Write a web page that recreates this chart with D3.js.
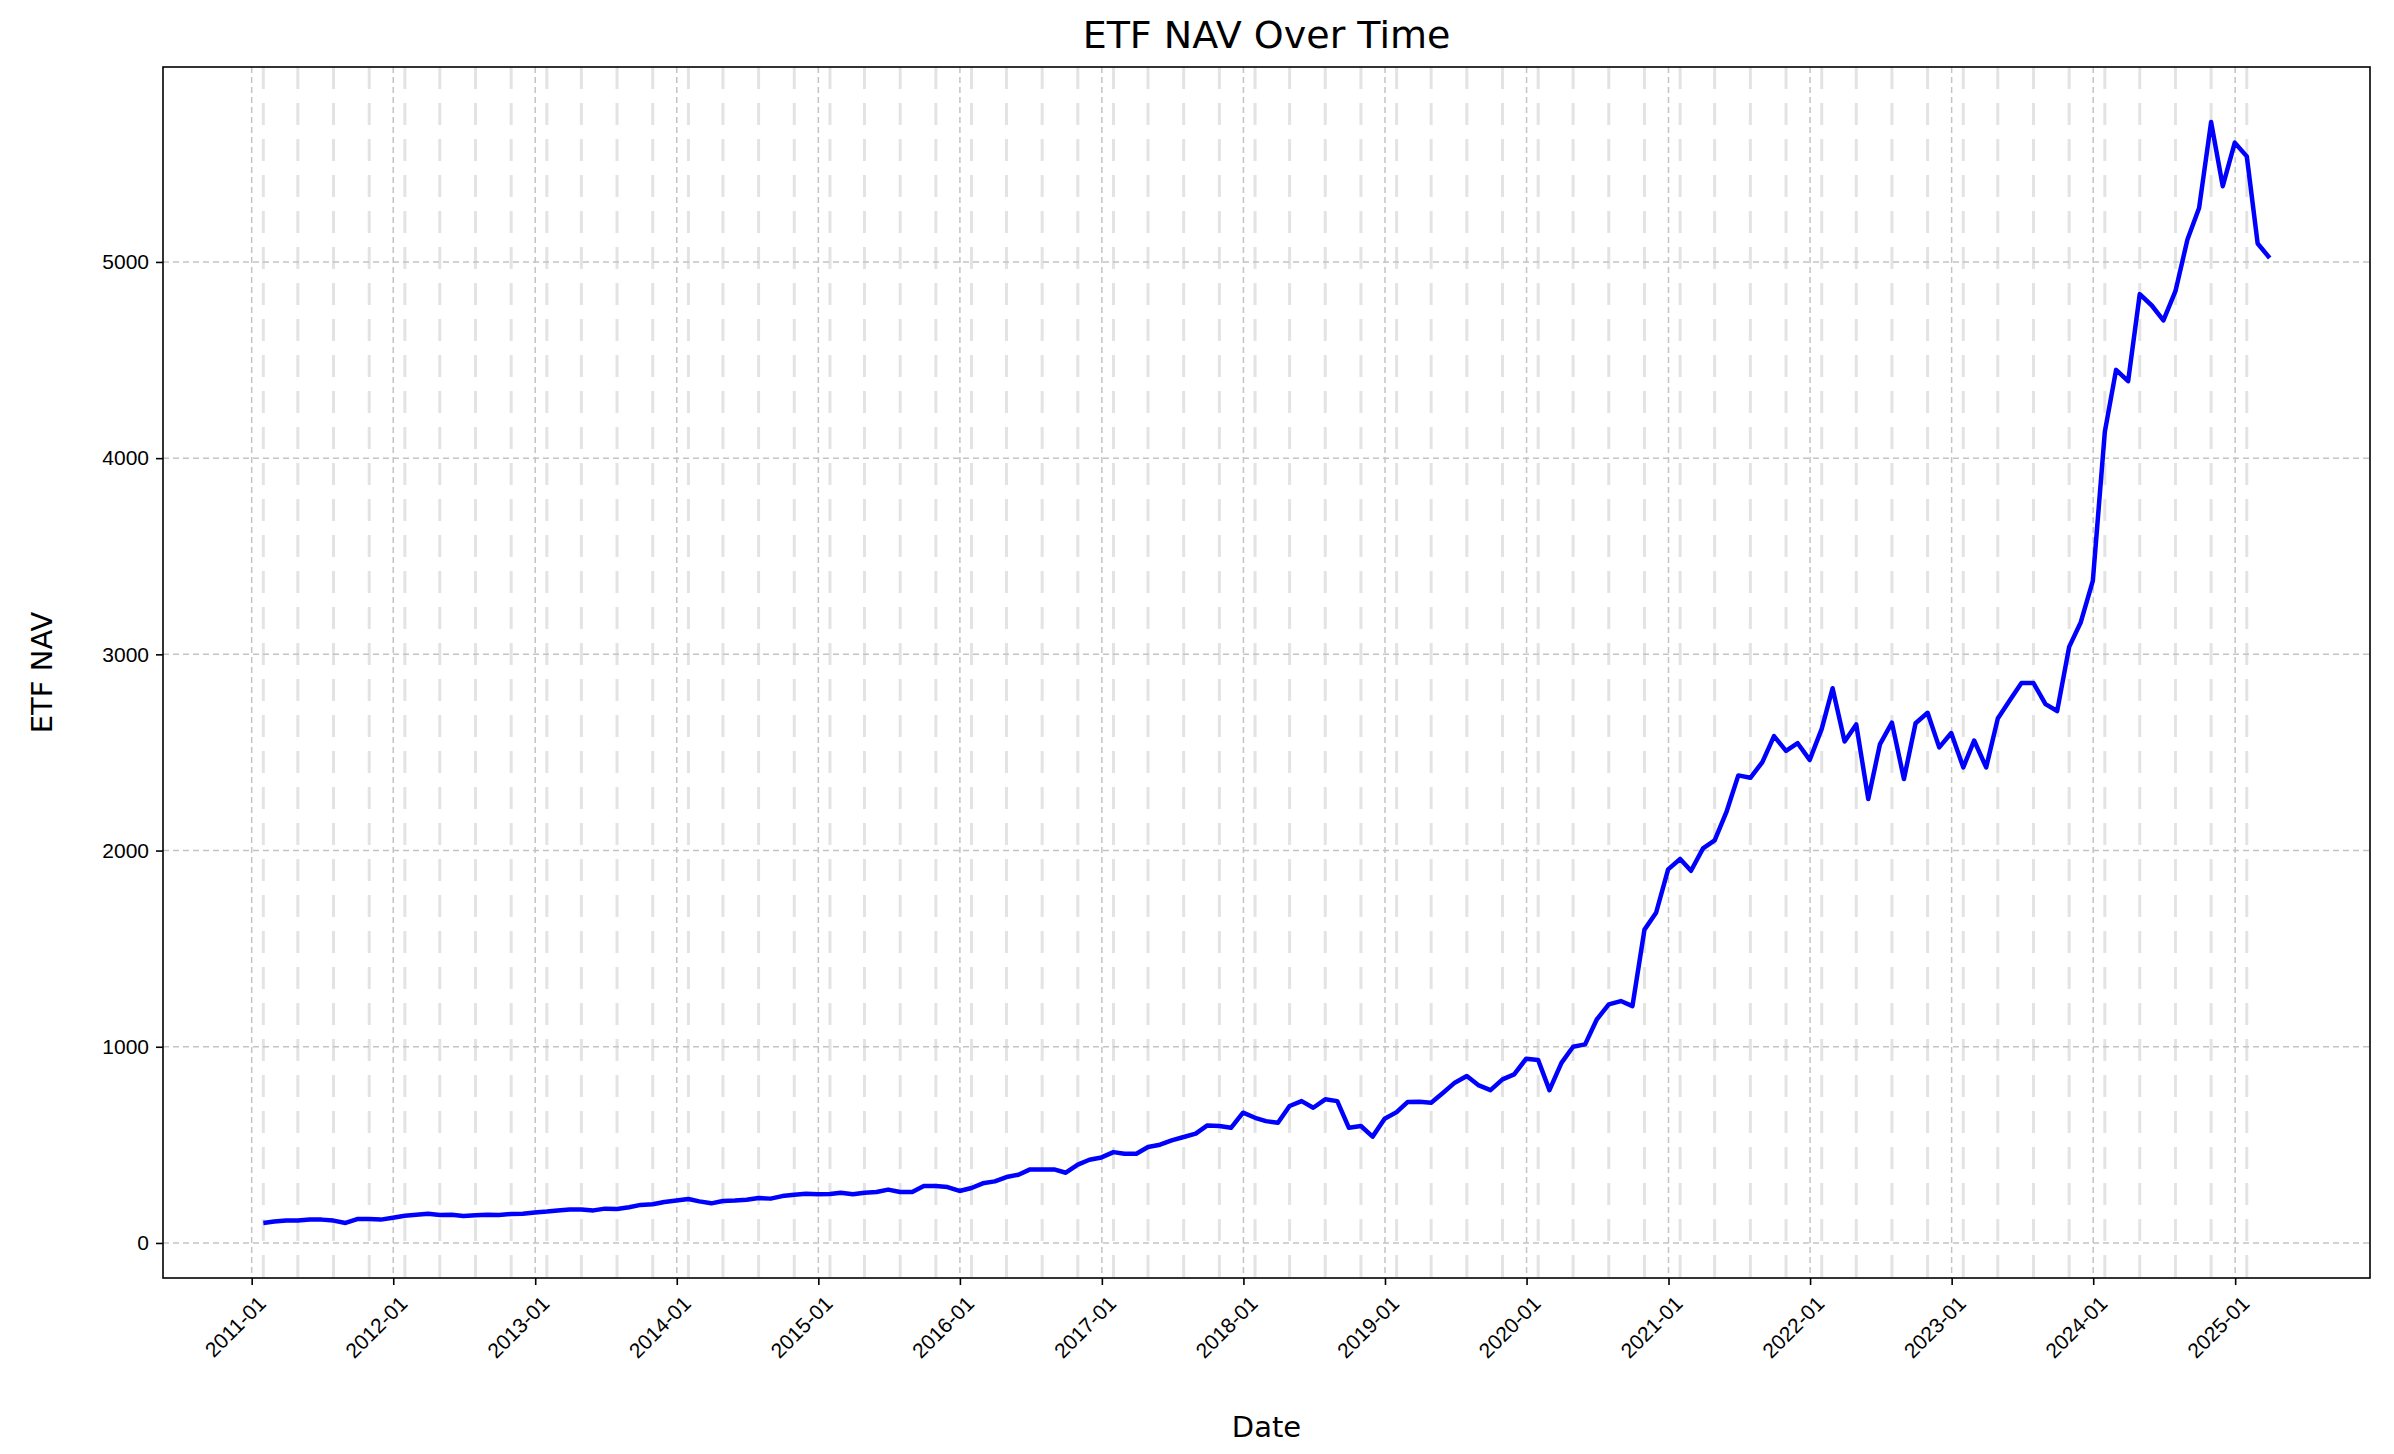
<!DOCTYPE html>
<html>
<head>
<meta charset="utf-8">
<script src="https://cdn.jsdelivr.net/npm/d3@7"></script>
<style>
  body { margin: 0; background: #fff; }
  svg { font-family: "DejaVu Sans", sans-serif; }
</style>
</head>
<body>
<svg></svg>
<script>
// monthly NAV, month-end values, Jan 2011 .. Mar 2025
let nav2011 = [102, 109, 114, 115, 119, 119, 114, 102, 122, 122, 119, 129]
let nav2012 = [139, 144, 149, 143, 144, 138, 141, 144, 143, 148, 149, 155]
let nav2013 = [160, 166, 171, 171, 166, 175, 173, 182, 194, 197, 209, 216]
let nav2014 = [224, 212, 202, 214, 216, 220, 229, 226, 239, 246, 251, 248]
let nav2015 = [250, 256, 248, 256, 260, 272, 260, 260, 290, 290, 285, 265]
let nav2016 = [280, 304, 314, 336, 348, 375, 374, 375, 358, 399, 424, 436]
let nav2017 = [463, 455, 455, 489, 501, 523, 540, 557, 599, 596, 587, 664]
let nav2018 = [638, 621, 613, 698, 723, 689, 732, 723, 587, 596, 542, 633]
let nav2019 = [667, 718, 720, 715, 766, 817, 851, 803, 779, 834, 859, 939]
let nav2020 = [932, 779, 918, 1000, 1012, 1139, 1216, 1233, 1207, 1597, 1683, 1904]
let nav2021 = [1957, 1897, 2011, 2052, 2200, 2383, 2371, 2451, 2583, 2508, 2547, 2462]
let nav2022 = [2620, 2827, 2556, 2643, 2263, 2541, 2652, 2365, 2649, 2702, 2526, 2599]
let nav2023 = [2424, 2561, 2424, 2673, 2766, 2854, 2854, 2746, 2711, 3038, 3164, 3374]
let nav2024 = [4135, 4450, 4392, 4836, 4778, 4702, 4851, 5114, 5275, 5713, 5386, 5608]
let nav2025 = [5538, 5094, 5020]

let startYear = 2011
let yTicks = [0, 1000, 2000, 3000, 4000, 5000]
let xTickYears = d3.range(2011, 2026)

let width = 2394
let height = 1454
let padLeft = 163, padRight = 2370, padTop = 67, padBottom = 1278

let navYears = [nav2011, nav2012, nav2013, nav2014, nav2015, nav2016, nav2017, nav2018,
                nav2019, nav2020, nav2021, nav2022, nav2023, nav2024, nav2025]
let values = []
navYears.forEach((arr, yi) => {
  arr.forEach((v, m) => {
    values.push([new Date(startYear + yi, m + 1, 0), v]) // last day of month
  })
})

let svg = d3.select("svg").attr("width", width).attr("height", height)

// matplotlib-like 5% margins
let t0 = values[0][0].getTime(), t1 = values[values.length - 1][0].getTime()
let tPad = (t1 - t0) * 0.05
let xScale = d3.scaleTime()
  .domain([new Date(t0 - tPad), new Date(t1 + tPad)])
  .range([padLeft, padRight])

let vMin = d3.min(values, d => d[1]), vMax = d3.max(values, d => d[1])
let vPad = (vMax - vMin) * 0.05
let yScale = d3.scaleLinear()
  .domain([vMin - vPad, vMax + vPad])
  .range([padBottom, padTop])

let plot = svg.append("g")

// light quarterly lines at every third data point
plot.selectAll("line.q")
  .data(values.filter((d, i) => i % 3 == 0))
  .enter()
  .append("line")
  .attr("class", "q")
  .attr("x1", d => xScale(d[0])).attr("x2", d => xScale(d[0]))
  .attr("y1", padTop).attr("y2", padBottom)
  .attr("stroke", "#e3e3e3")
  .attr("stroke-width", 3)
  .attr("stroke-dasharray", "22,14")

// major grid
let yearDates = xTickYears.map(y => new Date(y, 0, 1))
plot.selectAll("line.gx")
  .data(yearDates)
  .enter()
  .append("line")
  .attr("class", "gx")
  .attr("x1", d => xScale(d)).attr("x2", d => xScale(d))
  .attr("y1", padTop).attr("y2", padBottom)
  .attr("stroke", "#c4c4c4")
  .attr("stroke-width", 1.5)
  .attr("stroke-dasharray", "6,4")
plot.selectAll("line.gy")
  .data(yTicks)
  .enter()
  .append("line")
  .attr("class", "gy")
  .attr("x1", padLeft).attr("x2", padRight)
  .attr("y1", d => yScale(d)).attr("y2", d => yScale(d))
  .attr("stroke", "#c4c4c4")
  .attr("stroke-width", 1.5)
  .attr("stroke-dasharray", "6,4")

let line = d3.line()
  .x(d => xScale(d[0]))
  .y(d => yScale(d[1]))

plot.append("path")
  .datum(values)
  .attr("d", line)
  .attr("fill", "none")
  .attr("stroke", "#0000ff")
  .attr("stroke-width", 4.5)
  .attr("stroke-linejoin", "round")

// frame
svg.append("rect")
  .attr("x", padLeft).attr("y", padTop)
  .attr("width", padRight - padLeft).attr("height", padBottom - padTop)
  .attr("fill", "none").attr("stroke", "#000").attr("stroke-width", 1.6)

// axes
let fmt = d3.timeFormat("%Y-%m")
let xAxis = d3.axisBottom(xScale).tickValues(yearDates).tickFormat(fmt).tickSize(7).tickSizeOuter(0)
let gx = svg.append("g")
  .attr("transform", "translate(0," + padBottom + ")")
  .call(xAxis)
gx.select(".domain").remove()
gx.selectAll("line").attr("stroke-width", 1.6)
gx.selectAll("text")
  .attr("font-size", 21)
  .attr("fill", "#000")
  .attr("text-anchor", "end")
  .attr("dx", "0")
  .attr("dy", "0")
  .attr("transform", "translate(8,20) rotate(-45)")

let yAxis = d3.axisLeft(yScale).tickValues(yTicks).tickFormat(d3.format("d")).tickSize(7).tickSizeOuter(0)
let gy = svg.append("g")
  .attr("transform", "translate(" + padLeft + ",0)")
  .call(yAxis)
gy.select(".domain").remove()
gy.selectAll("line").attr("stroke-width", 1.6)
gy.selectAll("text").attr("font-size", 21).attr("fill", "#000").attr("x", -14)

svg.append("text")
  .attr("x", (padLeft + padRight) / 2).attr("y", 48)
  .attr("text-anchor", "middle")
  .attr("font-size", 38)
  .text("ETF NAV Over Time")

svg.append("text")
  .attr("x", (padLeft + padRight) / 2).attr("y", 1437)
  .attr("text-anchor", "middle")
  .attr("font-size", 29)
  .text("Date")

svg.append("text")
  .attr("transform", "translate(52," + (padTop + padBottom) / 2 + ") rotate(-90)")
  .attr("text-anchor", "middle")
  .attr("font-size", 29)
  .text("ETF NAV")
</script>
</body>
</html>
